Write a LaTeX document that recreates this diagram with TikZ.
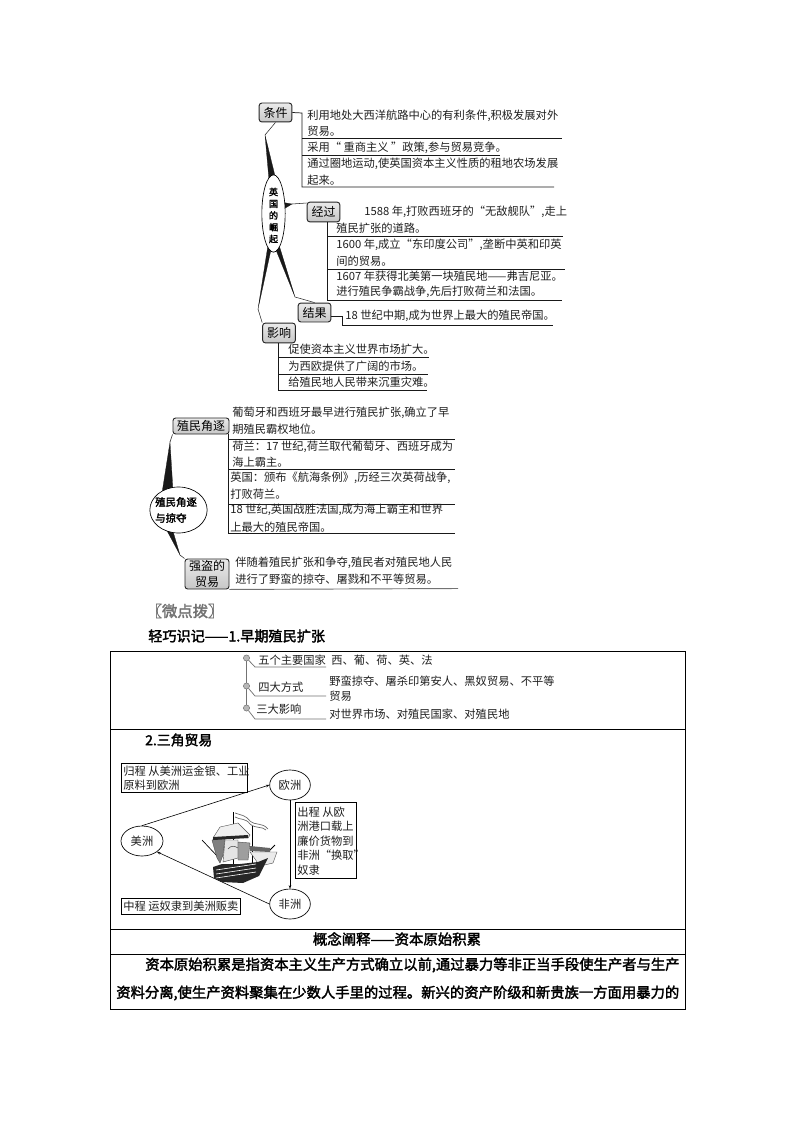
\documentclass[tikz,border=0pt]{standalone}
\usepackage{fontspec}
\setmainfont{Noto Sans CJK SC}
\newfontfamily\boldcjk{Noto Sans CJK SC}[FakeBold=2.2]
\tikzset{
  t/.style={anchor=west,inner sep=0pt,font=\fontsize{8.45}{10}\selectfont,text=black!88},
  lbl/.style={anchor=center,inner sep=0pt,font=\fontsize{9}{11}\selectfont,text=black},
  gbox/.style={draw=black!85,line width=.7pt,rounded corners=2pt,top color=white!92!black,bottom color=black!22},
  rule/.style={draw=black!90,line width=.55pt},
  wedge/.style={fill=black!90,draw=black!90,line width=.2pt},
  thin line/.style={draw=black!85,line width=.4pt},
  bub/.style={draw=black,line width=.5pt,ellipse,fill=white,inner sep=0pt},
  gr/.style={draw=black!55,line width=.55pt},
  dotn/.style={circle,draw=black!55,fill=black!28,minimum size=4.6pt,inner sep=0pt},
  sq/.style={draw=black,line width=.5pt,fill=white},
  cellrule/.style={draw=black,line width=.6pt},
  sail/.style={draw=black!70,line width=.3pt},
}
\usetikzlibrary{shapes.geometric,arrows.meta}
\begin{document}
\begin{tikzpicture}[x=.75pt,y=-.75pt]
\useasboundingbox[fill=white] (0,0) rectangle (794,1123);

% ---------- wedges, behind the bubbles
\coordinate (c1) at (265,135);
\coordinate (c2) at (292,204);
\coordinate (c3) at (258,309);
\coordinate (c4) at (295,297);
\coordinate (e1) at (170,442);
\coordinate (e2) at (180,555);
\fill[wedge] (269,180) -- (c1) -- (276,180) -- cycle;
\fill[wedge] (280,202) -- (c2) -- (282,210) -- cycle;
\fill[wedge] (268,245) -- (c3) -- (272,245) -- cycle;
\fill[wedge] (274,245) -- (c4) -- (279,245) -- cycle;
\fill[wedge] (162,493) -- (e1) -- (173,491) -- cycle;
\fill[wedge] (165,527) -- (e2) -- (172,528) -- cycle;

% ---------- England section
\node[gbox,minimum width=24.5pt,minimum height=14.2pt,inner sep=0pt] (tj) at (275.5,112.5) {};
\node[lbl] (tjl) at (tj.center) {条件};
\node[gbox,minimum width=24.5pt,minimum height=14.8pt,inner sep=0pt] (jg) at (323.5,212) {};
\node[lbl] (jgl) at (jg.center) {经过};
\node[gbox,minimum width=24.5pt,minimum height=14.2pt,inner sep=0pt] (jieg) at (314.5,312.5) {};
\node[lbl] (jiegl) at (jieg.center) {结果};
\node[gbox,minimum width=24.5pt,minimum height=14.8pt,inner sep=0pt] (yx) at (279,333) {};
\node[lbl] (yxl) at (yx.center) {影响};

\node[bub,minimum width=17.5pt,minimum height=58pt] (yg) at (273.5,213.5) {};
\node[inner sep=0pt,font=\fontsize{6.8}{8.8}\boldcjk\selectfont,align=center] (ygl) at (273.5,215.5) {英\\国\\的\\崛\\起};

\draw[thin line] (c1) -- (tj.south);
\draw[thin line] (c2) -- (jg.west |- 0,203);
\draw[thin line] (c3) -- (yx.north west);
\draw[thin line] (c4) -- (jieg.north);

\coordinate (r1a) at (302,113);
\coordinate (r1b) at (302,187);
\draw[rule] (tj.east) -- (r1a) -- (r1b) -- (554,187);
\draw[rule] (302,138.5) -- (562,138.5);
\draw[rule] (302,155) -- (500,155);
\node[t] (a1) at (307,116) {利用地处大西洋航路中心的有利条件,积极发展对外};
\node[t] (a2) at (307,131) {贸易。};
\node[t] (a3) at (307,147.5) {采用“ 重商主义 ”政策,参与贸易竞争。};
\node[t] (a4) at (307,164) {通过圈地运动,使英国资本主义性质的租地农场发展};
\node[t] (a5) at (307,180) {起来。};

\draw[rule] (jg.south -| 327,0) -- (327,300) -- (562,300);
\draw[rule] (327,236) -- (563,236);
\draw[rule] (327,269) -- (565,269);
\node[t] (b1) at (364,212) {1588 年,打败西班牙的“无敌舰队”,走上};
\node[t] (b2) at (336,228.5) {殖民扩张的道路。};
\node[t] (b3) at (336,244.5) {1600 年,成立“东印度公司”,垄断中英和印英};
\node[t] (b4) at (336,261) {间的贸易。};
\node[t] (b5) at (336,276.5) {1607 年获得北美第一块殖民地——弗吉尼亚。};
\node[t] (b6) at (336,292) {进行殖民争霸战争,先后打败荷兰和法国。};

\draw[rule] (jieg.east |- 0,316) -- (342,316) -- (342,325) -- (553,325);
\node[t] (c6) at (345,316) {18 世纪中期,成为世界上最大的殖民帝国。};

\draw[rule] (yx.south -| 278,0) -- (278,390) -- (427,390);
\draw[rule] (278,357) -- (429,357);
\draw[rule] (278,374) -- (428,374);
\node[t] (d1) at (288,349) {促使资本主义世界市场扩大。};
\node[t] (d2) at (288,366) {为西欧提供了广阔的市场。};
\node[t] (d3) at (288,382) {给殖民地人民带来沉重灾难。};

% ---------- Colonial rivalry
\node[gbox,minimum width=42pt,minimum height=12pt,inner sep=0pt] (zm) at (201,426) {};
\node[lbl] (zml) at (zm.center) {殖民角逐};
\node[gbox,minimum width=33pt,minimum height=22.5pt,inner sep=0pt] (qd) at (207,574) {};
\node[lbl,align=center,font=\fontsize{9}{12.6}\selectfont] (qdl) at (qd.center) {强盗的\\贸易};
\node[bub,minimum width=43pt,minimum height=34.5pt] (zl) at (178.5,510) {};
\node[inner sep=0pt,anchor=west,font=\fontsize{7.8}{12}\boldcjk\selectfont,align=left] (zll) at (155,510) {殖民角逐\\与掠夺};

\draw[thin line] (e1) -- (zm.south west);
\draw[thin line] (e2) -- (qd.north west);

\draw[rule] (228,434) -- (228,533) -- (455,533);
\draw[rule] (228,439) -- (455,439);
\draw[rule] (228,469) -- (455,469);
\draw[rule] (228,504) -- (455,504);
\node[t] (f1) at (232,413) {葡萄牙和西班牙最早进行殖民扩张,确立了早};
\node[t] (f2) at (232,429) {期殖民霸权地位。};
\node[t] (f3) at (232,447) {荷兰：17 世纪,荷兰取代葡萄牙、西班牙成为};
\node[t] (f4) at (232,462) {海上霸主。};
\node[t] (f5) at (230,478) {英国：颁布《航海条例》,历经三次英荷战争,};
\node[t] (f6) at (230,494) {打败荷兰。};
\node[t] (f7) at (230,510) {18 世纪,英国战胜法国,成为海上霸主和世界};
\node[t] (f8) at (230,527) {上最大的殖民帝国。};
\draw[draw=black!55,line width=.7pt] (qd.south east) -- (458,588.5);
\node[t] (g1) at (235,563) {伴随着殖民扩张和争夺,殖民者对殖民地人民};
\node[t] (g2) at (235,579) {进行了野蛮的掠夺、屠戮和不平等贸易。};

\node[anchor=center,inner sep=0pt,text=black!55,font=\fontsize{11.5}{13}\boldcjk\selectfont] (wd) at (185,611) {〖微点拨〗};
\node[anchor=west,inner sep=0pt,font=\fontsize{10.6}{12}\boldcjk\selectfont] (qq) at (148,636) {轻巧识记——1.早期殖民扩张};

% ---------- Table
\draw[cellrule] (110,651) rectangle (685,1009);
\draw[cellrule] (110,729) -- (685,729);
\draw[cellrule] (110,929) -- (685,929);
\draw[cellrule] (110,954) -- (685,954);

\node[dotn] (k1) at (246.5,658) {};
\node[dotn] (k2) at (246.5,686) {};
\node[dotn] (k3) at (246.5,708) {};
\draw[gr] (k1) -- (k2);
\draw[gr] (k2) -- (k3);
\draw[gr] (k1) -- (255,667) -- (326,667);
\draw[gr] (k2) -- (255,696) -- (326,696);
\draw[gr] (k3) -- (255,719) -- (326,719);
\node[t] (k1a) at (258,660) {五个主要国家};
\node[t] (k2a) at (258,687) {四大方式};
\node[t] (k3a) at (256,709) {三大影响};
\node[t] (k1b) at (331,660) {西、葡、荷、英、法};
\node[t] (k2b) at (329,681) {野蛮掠夺、屠杀印第安人、黑奴贸易、不平等};
\node[t] (k2c) at (329,696) {贸易};
\node[t] (k3b) at (329,714) {对世界市场、对殖民国家、对殖民地};
\node[anchor=west,inner sep=0pt,font=\fontsize{10.4}{12}\boldcjk\selectfont] (sj) at (145,740) {2.三角贸易};

% ---------- Triangle trade
\node[draw=black,line width=.5pt,ellipse,minimum width=30.5pt,minimum height=22.5pt,inner sep=0pt] (oz) at (290,785) {};
\node[t,anchor=center] (ozl) at (oz.center) {欧洲};
\node[draw=black,line width=.5pt,ellipse,minimum width=31.5pt,minimum height=22.5pt,inner sep=0pt] (mz) at (142,841) {};
\node[t,anchor=center] (mzl) at (mz.center) {美洲};
\node[draw=black,line width=.5pt,ellipse,minimum width=30.5pt,minimum height=22.5pt,inner sep=0pt] (fz) at (290,904) {};
\node[t,anchor=center] (fzl) at (fz.center) {非洲};
\draw[line width=.45pt,-{Stealth[length=2.6pt,width=2pt]}] (mz.north) -- (oz.west);
\draw[line width=.45pt,-{Stealth[length=2.6pt,width=2pt]}] (oz.south) -- (fz.north);
\draw[line width=.45pt,-{Stealth[length=2.6pt,width=2pt]}] (fz.west) -- (mz.south east);

\node[sq,minimum width=94.5pt,minimum height=21.5pt,inner sep=0pt] (gc) at (184,777.5) {};
\node[t] (gc1) at (123,771) {归程 从美洲运金银、工业};
\node[t] (gc2) at (123,785) {原料到欧洲};
\node[sq,minimum width=45.5pt,minimum height=57pt,inner sep=0pt] (cc) at (325.5,840) {};
\node[t] (cc1) at (297,812) {出程 从欧};
\node[t] (cc2) at (297,826) {洲港口载上};
\node[t] (cc3) at (297,841) {廉价货物到};
\node[t] (cc4) at (297,855) {非洲“换取”};
\node[t] (cc5) at (297,870) {奴隶};
\node[sq,minimum width=89pt,minimum height=12pt,inner sep=0pt] (zc) at (180.5,906) {};
\node[t] (zc1) at (123,906) {中程 运奴隶到美洲贩卖};

% ship
\draw[black!60,line width=.5pt] (235,813) .. controls (240,815) and (246,815) .. (250,821) .. controls (256,826) and (262,822) .. (268,829);
\draw[black!60,line width=.5pt] (235,817) .. controls (240,820) and (246,818) .. (250,824) .. controls (256,829) and (262,826) .. (266,830);
\draw[black,line width=.7pt] (233,812) -- (233,868);
\draw[black,line width=.5pt] (252,826) -- (252,866);
\draw[black,line width=.5pt] (202,840) -- (219,858);
\draw[black,line width=.6pt] (275,845) -- (266,854);
\fill[black!6,sail] (220,827) -- (238,823) -- (250,835) -- (248,838) -- (213,838) -- cycle;
\fill[black!50,sail] (212,840) -- (225,838) -- (223,855) -- (220,863) -- (217,858) -- cycle;
\fill[black!10,sail] (225,840) -- (238,840) -- (238,858) -- (223,862) -- cycle;
\draw[black!70,line width=.4pt] (228,849) .. controls (231,845) and (235,846) .. (238,848);
\fill[black!38,sail] (238,842) -- (250,843) -- (248,860) -- (238,860) -- cycle;
\fill[black!8,sail] (250,852) -- (277,852) -- (273,863) -- (260,866) -- cycle;
\fill[black!60] (250,846) -- (270,848) -- (270,852) -- (250,851) -- cycle;
\fill[black!85] (213,837) -- (248,835) -- (248,838) -- (213,840) -- cycle;
\fill[black!85] (213,867) -- (222,864) -- (240,864) -- (258,862) -- (268,858) -- (259,876) -- (243,883) -- (222,882) -- (214,878) -- cycle;
\foreach \yy in {870,874,878}
  \draw[white,line width=.45pt] (216,\yy) -- (256,\yy-6);

% ---------- Concept
\node[anchor=center,inner sep=0pt,font=\fontsize{10.8}{12}\boldcjk\selectfont] (gn) at (397,939) {概念阐释——资本原始积累};
\node[anchor=west,inner sep=0pt,font=\fontsize{10.75}{12}\boldcjk\selectfont] (h1) at (145,965) {资本原始积累是指资本主义生产方式确立以前,通过暴力等非正当手段使生产者与生产};
\node[anchor=west,inner sep=0pt,font=\fontsize{10.75}{12}\boldcjk\selectfont] (h2) at (116,993) {资料分离,使生产资料聚集在少数人手里的过程。新兴的资产阶级和新贵族一方面用暴力的};
\end{tikzpicture}
\end{document}
